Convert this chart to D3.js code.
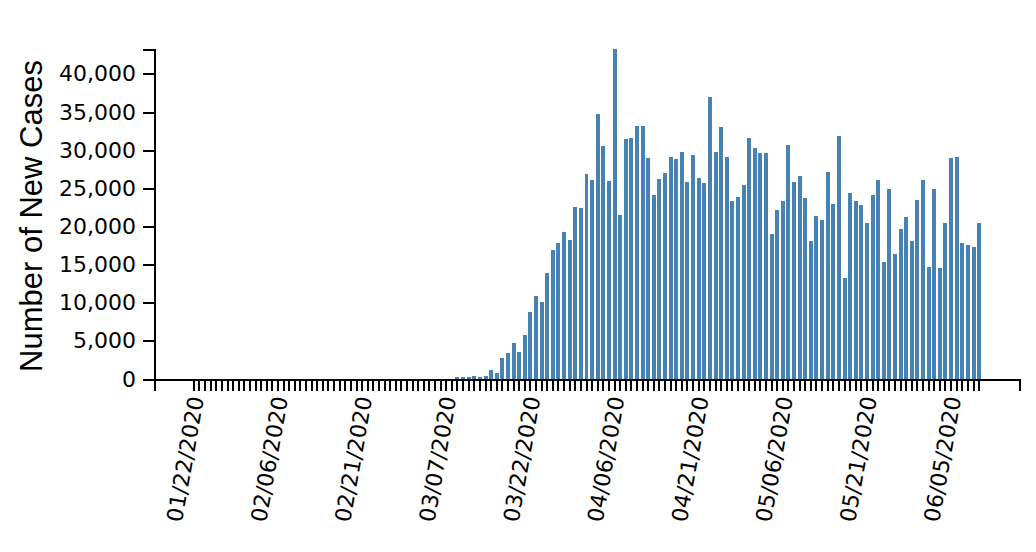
<!DOCTYPE html>
<html><head><meta charset="utf-8">
<script src="https://cdn.jsdelivr.net/npm/d3@7"></script>
<style>body{margin:0;background:#fff} svg{display:block}</style>
</head><body><svg id="c" width="1036" height="552"></svg>
<script>
const startDate = "2020-01-22";
const newCases = [
  1,0,0,1,0,2,0,0,0,1, 1,0,3,0,0,0,0,0,0,0, 0,1,0,0,0,0,0,0,0,0,
  0,0,0,1,0,1,2,3,5,4, 6,7,9,10,12,14,18,
  260,260,260,390,260,390,1180,790,2750,3410,4720,3540,5770,8780,10880,10100,13900,16910,17830,19270,
  18220,22550,22420,26880,26090,34740,30550,25960,43260,21500,31460,31600,33170,
  33170,28970,24120,26220,27010,29100,28840,29760,25830,29370,26350,25700,36970,29760,33040,29100,
  23340,23860,25430,31600,30280,29630,29630,19010,22160,23340,30680,25830,26610,
  23730,18090,21370,20840,27140,22940,31860,13240,24380,23340,22810,20450,24120,26090,15340,24910,
  16390,19670,21240,18090,23470,26090,14680,24910,14550,20450,28970,29100,17830,17570,17300,20450
];
const tickLabels = ["01/22/2020","02/06/2020","02/21/2020","03/07/2020","03/22/2020",
  "04/06/2020","04/21/2020","05/06/2020","05/21/2020","06/05/2020"];
const yTitle = "Number of New Cases";

const svg = d3.select("#c");
const x0 = 154, x1 = 1019, yBase = 379, yTop = 49;
const parse = d3.utcParse("%Y-%m-%d"), fmt = d3.utcFormat("%m/%d/%Y");
const start = parse(startDate);
const days = d3.utcDay.range(start, d3.utcDay.offset(start, newCases.length)).map(fmt);

const x = d3.scaleBand().domain(days).range([x0, x1]).paddingInner(0.29).paddingOuter(6.75);
const y = d3.scaleLinear().domain([0, d3.max(newCases)]).range([yBase, yTop]);

svg.append("g").selectAll("rect").data(newCases).join("rect")
  .attr("x", (d, i) => x(days[i]))
  .attr("width", x.bandwidth())
  .attr("y", d => y(d))
  .attr("height", d => yBase - y(d))
  .attr("fill", "steelblue")
  .attr("shape-rendering", "crispEdges");

const gx = svg.append("g").attr("transform", `translate(0,${yBase})`)
  .call(d3.axisBottom(x).tickSize(12).tickFormat(d => tickLabels.includes(d) ? d : ""));
gx.selectAll("path,line").attr("stroke", "#000").attr("stroke-width", 2).attr("shape-rendering", "crispEdges");
gx.selectAll("text")
  .attr("x", 0).attr("y", 0).attr("dy", null)
  .attr("transform", "translate(10,398) rotate(-80)".replace("398", 19))
  .attr("text-anchor", "end")
  .attr("fill", "#000")
  .style("font-family", "DejaVu Sans")
  .style("font-size", "22px");

const gy = svg.append("g").attr("transform", `translate(${x0},0)`)
  .call(d3.axisLeft(y).tickSize(11).tickPadding(7).tickFormat(d3.format(",")));
gy.selectAll("path,line").attr("stroke", "#000").attr("stroke-width", 2).attr("shape-rendering", "crispEdges");
gy.selectAll("text").attr("fill", "#000")
  .style("font-family", "DejaVu Sans").style("font-size", "22px");

svg.append("text")
  .attr("transform", `translate(42,${(yBase + yTop) / 2 + 2}) rotate(-90)`)
  .attr("text-anchor", "middle")
  .style("font-family", "Liberation Sans")
  .style("font-size", "31px")
  .attr("fill", "#000")
  .text(yTitle);
</script></body></html>
